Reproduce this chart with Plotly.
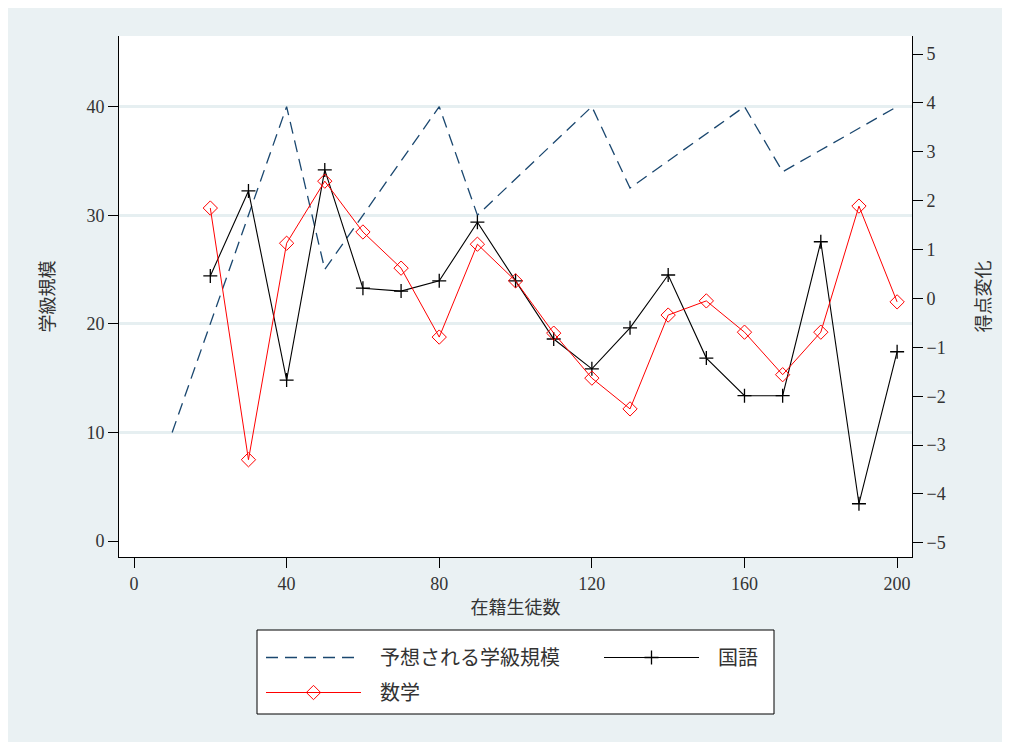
import plotly.graph_objects as go

enrollment = [10, 20, 30, 40, 50, 60, 70, 80, 90, 100, 110, 120, 130, 140, 150, 160, 170, 180, 190, 200]
expected_size = [10, 20, 30, 40, 25, 30, 35, 40, 30, 33.33, 36.67, 40, 32.5, 35, 37.5, 40, 34, 36, 38, 40]
score_x = enrollment[1:]
kokugo = [0.46, 2.2, -1.67, 2.63, 0.21, 0.15, 0.36, 1.56, 0.36, -0.83, -1.44, -0.60, 0.48, -1.22, -1.99, -1.99, 1.16, -4.2, -1.09]
sugaku = [1.85, -3.30, 1.13, 2.40, 1.36, 0.62, -0.79, 1.11, 0.36, -0.71, -1.63, -2.26, -0.34, -0.05, -0.69, -1.56, -0.69, 1.89, -0.07]

names = ["予想される学級規模", "国語", "数学"]
x_ticks = [0, 40, 80, 120, 160, 200]
y1_ticks = [0, 10, 20, 30, 40]
y2_ticks = [-5, -4, -3, -2, -1, 0, 1, 2, 3, 4, 5]

FONT = "Liberation Serif, Noto Sans CJK JP, serif"
CJK = "Noto Sans CJK JP, sans-serif"
TXT = "#333333"
BG = "#eaf1f3"
PAD = "\u2002\u2009"

W, H = 1010, 742
L, R, T, B = 111, 106, 28, 193
pw, ph = W - L - R, H - T - B


def px2x(px):
    return (px - L) / pw


def py2y(py):
    return (H - B - py) / ph


fig = go.Figure()
fig.add_trace(go.Scatter(
    x=enrollment, y=expected_size, name=PAD + names[0], mode="lines",
    line=dict(color="#1a476f", width=1.3, dash="12px,7px"), yaxis="y", legend="legend"))
fig.add_trace(go.Scatter(
    x=score_x, y=kokugo, name=PAD + names[1], mode="lines+markers",
    line=dict(color="black", width=1.1),
    marker=dict(symbol="cross-thin-open", size=10, line=dict(color="black", width=1.3)),
    yaxis="y2", legend="legend"))
fig.add_trace(go.Scatter(
    x=score_x, y=sugaku, name=PAD + names[2], mode="lines+markers",
    line=dict(color="red", width=1.0),
    marker=dict(symbol="diamond-open", size=11, color="red", line=dict(color="red", width=1.0)),
    yaxis="y2", legend="legend2"))

# legend frame
shapes = [dict(type="rect", xref="paper", yref="paper",
               x0=px2x(249), x1=px2x(766), y0=py2y(706), y1=py2y(622),
               fillcolor="white", line=dict(color="black", width=1), layer="above")]

leg_common = dict(
    orientation="h", xanchor="left", yanchor="top",
    bgcolor="rgba(0,0,0,0)", borderwidth=0,
    font=dict(family=CJK, size=20, color=TXT),
    itemwidth=95, entrywidth=228, traceorder="normal",
)

fig.update_layout(
    width=W, height=H,
    margin=dict(l=L, r=R, t=T, b=B),
    paper_bgcolor=BG, plot_bgcolor="white",
    font=dict(family=FONT, size=18, color=TXT),
    shapes=shapes,
    showlegend=True,
    legend=dict(x=px2x(253), y=py2y(630), **leg_common),
    legend2=dict(x=px2x(253), y=py2y(665), **leg_common),
    xaxis=dict(
        range=[-3.93, 203.9], tickvals=x_ticks, ticks="outside", ticklen=10, tickcolor="black",
        showline=True, linecolor="black", linewidth=1, showgrid=False, zeroline=False,
        title=dict(text="在籍生徒数", font=dict(family=CJK, size=18, color=TXT), standoff=8),
        tickfont=dict(family=FONT, size=18, color=TXT),
    ),
    yaxis=dict(
        range=[-1.47, 46.5], tickvals=y1_ticks, ticks="outside", ticklen=10, tickcolor="black",
        showline=True, linecolor="black", linewidth=1,
        showgrid=True, gridcolor="#e6eff1", gridwidth=2.5,
        zeroline=True, zerolinecolor="white", zerolinewidth=1,
        title=dict(text="学級規模", font=dict(family=CJK, size=18, color=TXT), standoff=27),
        tickfont=dict(family=FONT, size=18, color=TXT),
    ),
    yaxis2=dict(
        range=[-5.29, 5.37], tickvals=y2_ticks, ticks="outside", ticklen=10, tickcolor="black",
        overlaying="y", side="right",
        showline=True, linecolor="black", linewidth=1, showgrid=False, zeroline=False,
        title=dict(text="得点変化", font=dict(family=CJK, size=18, color=TXT), standoff=32),
        tickfont=dict(family=FONT, size=18, color=TXT),
    ),
)

fig.write_html("out.html")
